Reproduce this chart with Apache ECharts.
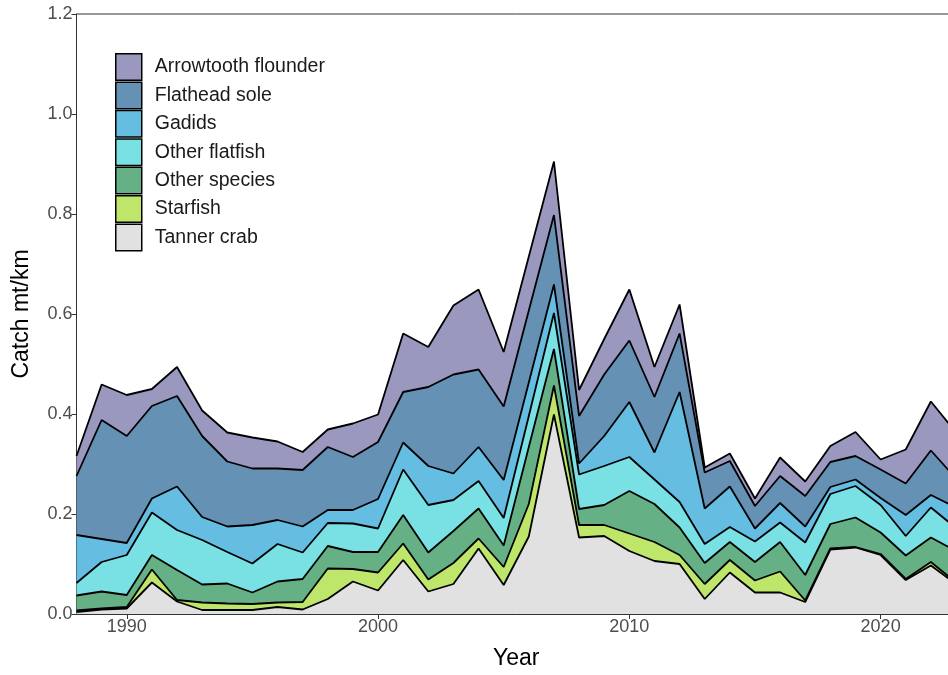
<!DOCTYPE html>
<html>
<head>
<meta charset="utf-8">
<script src="https://cdn.jsdelivr.net/npm/echarts@6/dist/echarts.min.js"></script>
<style>html,body{margin:0;padding:0;background:#fff;overflow:hidden;width:948px;height:675px;}#c{width:956px;height:675px;}</style>
</head>
<body>
<div id="c"></div>
<script>
const years = [1988,1989,1990,1991,1992,1993,1994,1995,1996,1997,1998,1999,2000,2001,2002,2003,2004,2005,2006,2007,2008,2009,2010,2011,2012,2013,2014,2015,2016,2017,2018,2019,2020,2021,2022,2023];
const xTickLabels = [1990, 2000, 2010, 2020];
const speciesNames = ["Arrowtooth flounder","Flathead sole","Gadids","Other flatfish","Other species","Starfish","Tanner crab"];

const tannerCrab = [.004,.009,.011,.063,.025,.008,.008,.008,.014,.009,.030,.065,.047,.108,.045,.060,.131,.058,.155,.399,.153,.156,.126,.106,.100,.030,.083,.043,.043,.024,.129,.133,.118,.068,.097,.060];
const starfish = [.003,.002,.003,.026,.003,.015,.013,.012,.009,.015,.061,.025,.036,.033,.024,.042,.020,.036,.065,.058,.025,.022,.035,.038,.018,.030,.025,.024,.042,.003,.002,.001,.002,.002,.007,.003];
const otherSpecies = [.030,.034,.024,.029,.060,.036,.040,.023,.042,.046,.045,.034,.041,.057,.054,.064,.060,.043,.114,.073,.032,.040,.085,.076,.055,.042,.036,.037,.059,.051,.049,.059,.043,.047,.049,.063];
const otherFlatfish = [.025,.059,.080,.085,.080,.089,.063,.058,.075,.053,.046,.057,.047,.091,.095,.062,.055,.055,.062,.072,.069,.078,.068,.049,.051,.038,.030,.041,.039,.065,.060,.063,.055,.039,.060,.046];
const gadids = [.096,.046,.024,.028,.087,.046,.051,.077,.048,.052,.026,.027,.059,.054,.078,.053,.068,.076,.067,.057,.022,.060,.110,.054,.220,.071,.081,.026,.039,.032,.014,.013,.014,.042,.025,.041];
const flatheadSole = [.118,.238,.214,.185,.181,.162,.130,.113,.103,.113,.126,.106,.114,.101,.158,.198,.155,.147,.144,.139,.095,.123,.123,.111,.117,.072,.051,.045,.054,.061,.050,.047,.057,.063,.089,.058];
const arrowtoothFlounder = [.040,.071,.082,.034,.058,.051,.058,.062,.054,.036,.035,.067,.055,.117,.080,.138,.160,.109,.108,.107,.052,.071,.102,.060,.058,.010,.015,.015,.037,.029,.032,.048,.020,.068,.098,.092];

const colors = {
  "Tanner crab": "#e1e1e1",
  "Starfish": "#bee66a",
  "Other species": "#66b085",
  "Other flatfish": "#79e0e3",
  "Gadids": "#65bde2",
  "Flathead sole": "#6591b4",
  "Arrowtooth flounder": "#9a98bf"
};
// bottom-up stacking order
const stackOrder = [
  ["Tanner crab", tannerCrab],
  ["Starfish", starfish],
  ["Other species", otherSpecies],
  ["Other flatfish", otherFlatfish],
  ["Gadids", gadids],
  ["Flathead sole", flatheadSole],
  ["Arrowtooth flounder", arrowtoothFlounder]
];

const series = stackOrder.map(([name, vals], i) => ({
  name: name,
  type: 'line',
  stack: 'total',
  data: vals,
  showSymbol: false,
  symbol: 'none',
  z: 20 - i,
  lineStyle: { color: '#000', width: 1.8 },
  itemStyle: { color: colors[name], borderColor: '#000', borderWidth: 1.5 },
  areaStyle: { color: colors[name], opacity: 1 },
  emphasis: { disabled: true },
  animation: false
}));

const chart = echarts.init(document.getElementById('c'), null, { renderer: 'canvas' });
const font = '"Liberation Sans", Arial, sans-serif';
chart.setOption({
  animation: false,
  backgroundColor: '#fff',
  textStyle: { fontFamily: font },
  grid: { left: 76.5, top: 14, bottom: 60, right: 0, show: true, borderColor: '#333', borderWidth: 1, backgroundColor: 'transparent' },
  legend: {
    data: speciesNames,
    orient: 'vertical',
    left: 115, top: 53,
    padding: 0,
    itemWidth: 26, itemHeight: 26.5, itemGap: 0.4,
    icon: 'rect',
    itemStyle: { borderColor: '#000', borderWidth: 1.5 },
    textStyle: { fontSize: 19.5, color: '#1a1a1a', fontFamily: font, padding: [4, 0, 0, 8] },
    selectedMode: false
  },
  xAxis: {
    type: 'category',
    data: years,
    boundaryGap: false,
    name: 'Year',
    nameLocation: 'middle',
    nameGap: 33,
    nameTextStyle: { fontSize: 23, color: '#000', fontFamily: font },
    axisLine: { lineStyle: { color: '#333', width: 1 } },
    axisTick: { length: 5, lineStyle: { color: '#333' }, interval: (idx, val) => xTickLabels.includes(Number(val)) },
    axisLabel: { fontSize: 18, color: '#4d4d4d', margin: 4, interval: (idx, val) => xTickLabels.includes(Number(val)) },
    splitLine: { show: false }
  },
  yAxis: {
    type: 'value',
    min: 0, max: 1.2, interval: 0.2,
    name: 'Catch mt/km',
    nameLocation: 'middle',
    nameGap: 43,
    nameTextStyle: { fontSize: 23, color: '#000', fontFamily: font },
    axisLine: { show: true, lineStyle: { color: '#333', width: 1 } },
    axisTick: { show: true, length: 5, lineStyle: { color: '#333' } },
    axisLabel: { fontSize: 18, color: '#4d4d4d', margin: 4, formatter: v => v.toFixed(1) },
    splitLine: { show: false }
  },
  series: series
});
</script>
</body>
</html>
